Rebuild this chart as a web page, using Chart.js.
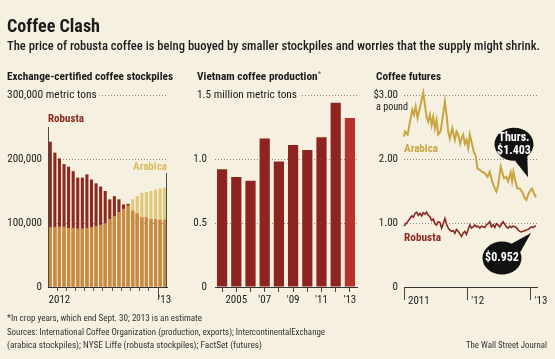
<!DOCTYPE html>
<html>
<head>
<meta charset="utf-8">
<script src="https://cdn.jsdelivr.net/npm/chart.js@4.4.0/dist/chart.umd.min.js"></script>
<style>
  body { margin: 0; background: #f6f0e1; }
  #wrap { position: relative; width: 555px; height: 359px; overflow: hidden; background: #f6f0e1; }
  canvas { position: absolute; left: 0; top: 0; }
  .t { position: absolute; white-space: nowrap; line-height: 1; transform-origin: 0 50%; color: #1c1c1c;
       font-family: 'Roboto Condensed', 'Liberation Sans Narrow', 'DejaVu Sans Condensed', Roboto, sans-serif; }
  .b { font-weight: bold; }
  .mask { background: #f6f0e1; padding-right: 3px; }
  .note { font-size: 9.5px; color: #333; }
</style>
</head>
<body>
<div id="wrap">
  <canvas id="stock" width="555" height="359"></canvas>
  <canvas id="viet" width="555" height="359"></canvas>
  <canvas id="fut" width="555" height="359"></canvas>

  <div class="t b" style="left:7px;top:16px;font-size:19px" data-w="93">Coffee Clash</div>
  <div class="t" style="left:7px;top:40px;font-size:12.5px;font-weight:500" data-w="533">The price of robusta coffee is being buoyed by smaller stockpiles and worries that the supply might shrink.</div>

  <div class="t b" style="left:7px;top:71px;font-size:11px" data-w="166">Exchange-certified coffee stockpiles</div>
  <div class="t b" style="left:197px;top:71px;font-size:11px" data-w="124">Vietnam coffee production<span style="font-size:7px;vertical-align:top;color:#666">*</span></div>
  <div class="t b" style="left:376px;top:71px;font-size:11px" data-w="65">Coffee futures</div>

  <div class="t mask" style="left:7px;top:89px;font-size:11px" data-w="93">300,000 metric tons</div>
  <div class="t mask" style="left:197px;top:89px;font-size:11px" data-w="103">1.5 million metric tons</div>
  <div class="t" style="left:376px;top:101px;font-size:11px" data-w="32">a pound</div>

  <div class="t b" style="left:48px;top:113px;font-size:11px;color:#8c2a1f" data-w="36">Robusta</div>
  <div class="t b" style="left:133px;top:161px;font-size:11px;color:#d9bd62" data-w="34">Arabica</div>
  <div class="t b" style="left:404px;top:143px;font-size:11px;color:#c8a541" data-w="34">Arabica</div>
  <div class="t b" style="left:404px;top:232px;font-size:11px;color:#8b2a22" data-w="37">Robusta</div>

  <div class="t note" style="left:7px;top:313px" data-w="195">*In crop years, which end Sept. 30; 2013 is an estimate</div>
  <div class="t note" style="left:7px;top:327px" data-w="318">Sources: International Coffee Organization (production, exports); IntercontinentalExchange</div>
  <div class="t note" style="left:7px;top:340px" data-w="255">(arabica stockpiles); NYSE Liffe (robusta stockpiles); FactSet (futures)</div>
  <div class="t note" style="left:466px;top:340px" data-w="81">The Wall Street Journal</div>
</div>

<script>
// Stockpiles, two readings a month, Jan 2012 to Jan 2013 (metric tons)
const stockLabels = ['Jan', 'Jan', 'Feb', 'Feb', 'Mar', 'Mar', 'Apr', 'Apr', 'May', 'May', 'Jun', 'Jun', 'Jul',
    'Jul', 'Aug', 'Aug', 'Sep', 'Sep', 'Oct', 'Oct', 'Nov', 'Nov', 'Dec', 'Dec', 'Jan', 'Jan'];
const robustaStocks = [227000, 210000, 201000, 192000, 188000, 181000, 171000, 171000, 176000, 168000, 162000,
    157000, 150000, 137000, 142000, 137000, 129000, 130000, 119000, 115000, 109000, 109000, 106000, 106000, 105000, 105000];
const arabicaStocks = [93000, 93000, 94000, 94000, 92000, 92000, 91000, 91000, 92000, 93000, 95000, 97000, 99000,
    106000, 110000, 117000, 122000, 127000, 137000, 142000, 147000, 148000, 150000, 152000, 154000, 155000];
const stockXLabels = ['', '', '2012', '', '', '', '', '', '', '', '', '', '', '', '', '', '', '', '', '', '', '', '', '', '', "'13"];
const stockYLabels = ['0', '100,000', '200,000', ''];

// Vietnam production, crop years (million metric tons)
const vietYears = ['2004', '2005', '2006', '2007', '2008', '2009', '2010', '2011', '2012', '2013'];
const vietOutput = [0.92, 0.86, 0.83, 1.16, 0.98, 1.11, 1.07, 1.17, 1.44, 1.32];
const vietXLabels = ['', '2005', '', "'07", '', "'09", '', "'11", '', "'13"];
const vietYLabels = ['0', '0.5', '1.0', ''];

// Futures, months since Jan 2011 ($ a pound)
const arabicaMonths = [0, 0.19, 0.69, 1.13, 1.58, 1.89, 2.21, 2.58, 2.84, 3.21, 3.65, 3.97, 4.28, 4.60, 4.91, 5.23,
    5.54, 5.86, 6.17, 6.49, 6.93, 7.43, 7.75, 8.06, 8.38, 8.69, 9.14, 9.64, 9.95, 10.27, 10.65, 10.90, 11.21, 11.53,
    11.84, 12.16, 12.47, 12.79, 13.23, 13.61, 13.92, 14.36, 14.81, 15.31, 15.81, 16.25, 16.70, 17.20, 17.51, 17.83,
    18.33, 18.59, 18.96, 19.40, 19.72, 20.22, 20.48, 20.73, 21.11, 21.48, 21.92, 22.37, 22.87, 23.18, 23.50, 23.81,
    24.26, 24.63, 25.01];
const arabicaPrices = [2.35, 2.43, 2.38, 2.58, 2.77, 2.69, 2.82, 2.64, 2.74, 2.87, 3.04, 2.84, 2.66, 2.58, 2.69, 2.53,
    2.66, 2.48, 2.61, 2.38, 2.43, 2.71, 2.90, 2.69, 2.43, 2.32, 2.48, 2.30, 2.43, 2.38, 2.24, 2.32, 2.38, 2.24,
    2.30, 2.17, 2.38, 2.27, 2.11, 2.04, 1.85, 1.83, 1.80, 1.78, 1.72, 1.80, 1.65, 1.54, 1.49, 1.59,
    1.88, 1.80, 1.70, 1.72, 1.65, 1.79, 1.65, 1.80, 1.65, 1.54, 1.54, 1.49, 1.39, 1.36, 1.44, 1.49,
    1.54, 1.46, 1.403];
const robustaMonths = [0, 0.32, 0.69, 1.13, 1.45, 1.76, 2.08, 2.39, 2.71, 3.02, 3.34, 3.65, 3.97, 4.28, 4.60, 4.91,
    5.23, 5.54, 5.86, 6.17, 6.49, 6.80, 7.12, 7.43, 7.75, 8.06, 8.38, 8.69, 9.01, 9.32, 9.64, 9.95, 10.27, 10.58,
    10.90, 11.21, 11.53, 11.84, 12.16, 12.47, 12.79, 13.10, 13.42, 13.73, 14.05, 14.36, 14.68, 14.99, 15.31, 15.62,
    15.94, 16.25, 16.57, 16.88, 17.20, 17.51, 17.83, 18.14, 18.46, 18.77, 19.09, 19.40, 19.72, 20.03, 20.35, 20.66,
    20.98, 21.29, 21.61, 21.92, 22.24, 22.55, 22.87, 23.18, 23.50, 23.81, 24.13, 24.44, 24.76, 25.01];
const robustaPrices = [0.954, 0.985, 1.02, 1.07, 1.11, 1.09, 1.15, 1.17, 1.12, 1.15, 1.11, 1.16, 1.14, 1.17, 1.12, 1.10,
    1.04, 1.06, 0.99, 0.97, 1.02, 1.01, 0.92, 0.99, 1.07, 0.98, 0.92, 0.89, 0.87, 0.88, 0.84, 0.90, 0.87, 0.83,
    0.79, 0.84, 0.87, 0.82, 0.90, 0.97, 0.92, 0.94, 0.97, 0.94, 0.95, 0.92, 0.95, 0.94, 0.93, 0.97,
    0.99, 1.02, 0.94, 0.97, 0.93, 0.99, 0.97, 0.94, 0.98, 1.02, 0.98, 0.94, 0.92, 0.95, 0.93, 0.95,
    0.94, 0.93, 0.89, 0.87, 0.86, 0.87, 0.88, 0.89, 0.90, 0.92, 0.94, 0.93, 0.95, 0.952];
const futXLabels = ['2011', "'12", "'13"];
const futYLabels = ['0', '1.00', '2.00', '$3.00'];

const F = "'Roboto Condensed','Liberation Sans Narrow','DejaVu Sans Condensed',Roboto,sans-serif";
const DOT = '#8a8a8a';
const AXIS = '#333';

// squeeze html text to the widths measured on the original
document.querySelectorAll('[data-w]').forEach(el => {
    const w = el.getBoundingClientRect().width;
    el.style.transform = 'scaleX(' + (el.dataset.w / w).toFixed(3) + ')';
});

Chart.defaults.font.family = F;
Chart.defaults.font.size = 11;
Chart.defaults.color = '#222';
Chart.defaults.animation = false;
Chart.defaults.plugins.legend.display = false;
Chart.defaults.plugins.tooltip.enabled = false;

function yGridColor(c) {
    return c.tick && c.tick.value === 0 ? 'rgba(0,0,0,0)' : DOT;
}

// Edge rules and the long tick at the turn of the year
const stockEdges = {
    id: 'stockEdges',
    afterDraw(chart) {
        const { ctx, chartArea: a, scales: { x, y } } = chart;
        const x13 = Math.round((x.getPixelForValue(23) + x.getPixelForValue(24)) / 2) + 0.5;
        ctx.save();
        ctx.strokeStyle = '#4a4a4a';
        ctx.lineWidth = 1;
        ctx.beginPath();
        ctx.moveTo(a.left + 0.5, y.getPixelForValue(0));
        ctx.lineTo(a.left + 0.5, y.getPixelForValue(250000));
        ctx.moveTo(a.right - 0.5, y.getPixelForValue(0));
        ctx.lineTo(a.right - 0.5, y.getPixelForValue(178000));
        ctx.moveTo(x13, a.bottom);
        ctx.lineTo(x13, a.bottom + 13);
        ctx.stroke();
        ctx.restore();
    }
};

function drawBubble(ctx, cx, cy, tx, ty, lines) {
    const rx = 19.5, ry = 16.5;
    const ang = Math.atan2(ty - cy, tx - cx);
    ctx.save();
    ctx.fillStyle = '#111';
    ctx.beginPath();
    ctx.ellipse(cx, cy, rx, ry, 0, 0, Math.PI * 2);
    ctx.fill();
    ctx.beginPath();
    ctx.moveTo(cx + rx * Math.cos(ang - 0.35), cy + ry * Math.sin(ang - 0.35));
    ctx.lineTo(tx, ty);
    ctx.lineTo(cx + rx * Math.cos(ang + 0.35), cy + ry * Math.sin(ang + 0.35));
    ctx.closePath();
    ctx.fill();
    ctx.fillStyle = '#fff';
    ctx.font = 'bold 12px ' + F;
    ctx.textAlign = 'center';
    ctx.textBaseline = 'middle';
    lines.forEach((s, i) => ctx.fillText(s, cx, cy + (i - (lines.length - 1) / 2) * 13));
    ctx.restore();
}

// Callouts hang off the last point of each line
const bubbles = {
    id: 'bubbles',
    afterDatasetsDraw(chart) {
        const a = chart.getDatasetMeta(0).data.at(-1);
        const r = chart.getDatasetMeta(1).data.at(-1);
        drawBubble(chart.ctx, a.x - 22, a.y - 53, a.x - 8, a.y - 20, ['Thurs.', '$' + arabicaPrices.at(-1).toFixed(3)]);
        drawBubble(chart.ctx, r.x - 34, r.y + 32, r.x - 5, r.y + 7, ['$' + robustaPrices.at(-1).toFixed(3)]);
    }
};

// Stockpiles: shared part in orange, the excess of each in its own colour
const stockOverlap = robustaStocks.map((r, i) => Math.min(r, arabicaStocks[i]));

new Chart(document.getElementById('stock'), {
    type: 'bar',
    data: {
        labels: stockLabels,
        datasets: [
            { data: robustaStocks, backgroundColor: '#8c2a1f', order: 3 },
            { data: arabicaStocks, backgroundColor: '#e1c877', order: 2 },
            { data: stockOverlap, backgroundColor: '#c98a3e', order: 1 }
        ]
    },
    options: {
        responsive: false,
        layout: { padding: { left: 0, top: 95, right: 388, bottom: 0 } },
        datasets: { bar: { grouped: false, barPercentage: 0.68, categoryPercentage: 1 } },
        scales: {
            x: {
                grid: {
                    drawOnChartArea: false,
                    tickLength: 4,
                    color: c => (c.index % 2 === 0 && c.index > 0 && c.index < 24) ? '#555' : 'rgba(0,0,0,0)'
                },
                border: { color: AXIS },
                ticks: { callback: (v, i) => stockXLabels[i], autoSkip: false, maxRotation: 0, padding: 3 },
                afterFit: s => { s.height = 72; }
            },
            y: {
                min: 0,
                max: 300000,
                ticks: { stepSize: 100000, callback: (v, i) => stockYLabels[i], padding: 6 },
                grid: { color: yGridColor, drawTicks: false },
                border: { display: false, dash: [1, 2] },
                afterFit: s => { s.width = 48; }
            }
        }
    },
    plugins: [stockEdges]
});

new Chart(document.getElementById('viet'), {
    type: 'bar',
    data: {
        labels: vietYears,
        datasets: [{
            data: vietOutput,
            backgroundColor: vietYears.map((y, i) => i === vietYears.length - 1 ? '#b8312b' : '#8d2420'),
            barPercentage: 0.72,
            categoryPercentage: 1
        }]
    },
    options: {
        responsive: false,
        layout: { padding: { left: 185, top: 95, right: 198, bottom: 0 } },
        scales: {
            x: {
                grid: { offset: false, drawOnChartArea: false, tickLength: 5, color: '#444' },
                border: { color: AXIS },
                ticks: { callback: (v, i) => vietXLabels[i], autoSkip: false, maxRotation: 0, padding: 2 },
                afterFit: s => { s.height = 72; }
            },
            y: {
                min: 0,
                max: 1.5,
                ticks: { stepSize: 0.5, callback: (v, i) => vietYLabels[i], padding: 8 },
                grid: { color: yGridColor, drawTicks: false },
                border: { display: false, dash: [1, 2] },
                afterFit: s => { s.width = 30; }
            }
        }
    }
});

new Chart(document.getElementById('fut'), {
    type: 'line',
    data: {
        datasets: [
            {
                data: arabicaMonths.map((m, i) => ({ x: m, y: arabicaPrices[i] })),
                borderColor: '#c8a541',
                borderWidth: 2,
                pointRadius: 0,
                clip: 8
            },
            {
                data: robustaMonths.map((m, i) => ({ x: m, y: robustaPrices[i] })),
                borderColor: '#8b2a22',
                borderWidth: 1.6,
                pointRadius: 0,
                clip: 8
            }
        ]
    },
    options: {
        responsive: false,
        layout: { padding: { left: 370, top: 95, right: 18, bottom: 0 } },
        scales: {
            x: {
                type: 'linear',
                min: 0,
                max: 25.2,
                ticks: {
                    stepSize: 12,
                    includeBounds: false,
                    callback: (v, i) => futXLabels[i],
                    align: 'start',
                    labelOffset: 4,
                    padding: -5,
                    maxRotation: 0
                },
                grid: { drawOnChartArea: false, tickLength: 13, color: '#444' },
                border: { color: AXIS },
                afterFit: s => { s.height = 72; }
            },
            y: {
                min: 0,
                max: 3,
                ticks: { stepSize: 1, callback: (v, i) => futYLabels[i], padding: 6 },
                grid: { color: yGridColor, drawTicks: false },
                border: { display: false, dash: [1, 2] },
                afterFit: s => { s.width = 34; }
            }
        }
    },
    plugins: [bubbles]
});
</script>
</body>
</html>
